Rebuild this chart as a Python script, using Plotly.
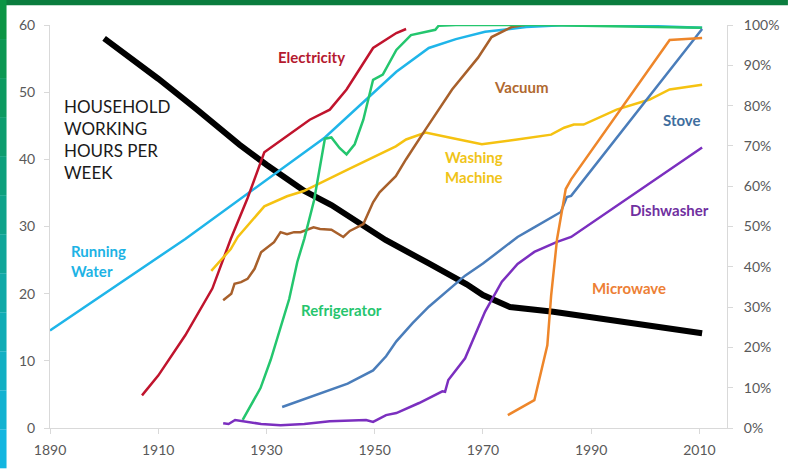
import plotly.graph_objects as go

# === Household working hours per week (left axis) ===
hours_years = [1900, 1905, 1910, 1917, 1925, 1930, 1937, 1942, 1948, 1952, 1960, 1967, 1970, 1975, 1983, 1995, 2010.5]
hours_vals = [58, 55, 52, 47.5, 42.2, 39.2, 35.3, 33.2, 30.1, 28.0, 24.5, 21.4, 19.8, 18.0, 17.3, 16.0, 14.1]

# === Share of households with the technology, % (right axis) ===
water_years = [1890, 1915, 1940.8, 1950, 1954, 1960, 1965, 1970.4, 1978, 1985.5, 2000, 2010.5]
water_vals = [24.2, 46.9, 72.1, 83.5, 88.4, 94.3, 96.5, 98.3, 99.5, 100, 99.8, 99.3]

elec_years = [1907, 1910, 1915, 1920, 1923.4, 1926.5, 1929.6, 1935, 1938, 1941.7, 1944.8, 1949.7, 1954, 1955.8]
elec_vals = [8.1, 13, 23, 34.6, 46.9, 57, 68.4, 73.5, 76.5, 79, 84, 94.3, 98, 99]

fridge_years = [1925.6, 1927, 1928.9, 1930.8, 1932.6, 1934.2, 1935.7, 1937, 1938.8, 1940.8, 1942, 1943.5,
                1944.8, 1946.3, 1947.9, 1949.7, 1951.5, 1952.5, 1954, 1956.7, 1961.2, 1961.8, 1965, 1980, 1990, 2010.5]
fridge_vals = [2, 5.5, 9.9, 17, 24.7, 32, 41.2, 47, 56.5, 71.8, 72.1, 69.5,
               67.9, 70.4, 76.5, 86.4, 87.7, 90, 93.8, 97.5, 98.8, 99.8, 100, 100, 99.8, 99.3]

vacuum_years = [1922, 1923.5, 1924.1, 1925.3, 1926.5, 1927.8, 1929, 1930.2, 1931.4, 1932.6, 1933.8, 1935.1, 1936.3,
                1938.7, 1939.9, 1942, 1944.2, 1945.4, 1947.9, 1949.7, 1950.9, 1953.9, 1955.8, 1959.4, 1964.3,
                1969.1, 1971.6, 1975.3, 1977.7]
vacuum_vals = [31.7, 33.3, 35.8, 36.2, 37, 39.5, 43.6, 44.9, 46.1, 48.6, 48.1, 48.6, 48.6,
               49.8, 49.4, 49.2, 47.4, 48.9, 50.6, 56, 58.5, 62.5, 66.7, 74.1, 84,
               91.9, 97, 99.5, 100]

washer_years = [1919.8, 1923.4, 1924.7, 1929.6, 1933.8, 1936.9, 1945, 1953.9, 1955.8, 1959.4, 1964, 1969.8,
                1976, 1982.6, 1985, 1986.8, 1988.6, 1994.7, 2000.8, 2004.5, 2010.5]
washer_vals = [39, 44.4, 47.4, 55, 57.5, 58.8, 64.1, 69.9, 71.6, 73.3, 72, 70.4,
               71.5, 72.8, 74.5, 75.3, 75.3, 79, 81.5, 84, 85.2]

stove_years = [1932.9, 1940, 1945, 1949.7, 1952.1, 1954, 1957, 1960, 1966.7, 1970, 1976.4, 1979, 1984.4,
               1985.5, 1986.3, 2010.5]
stove_vals = [5.2, 8.5, 11, 14.3, 17.8, 21.5, 26, 30.1, 37.8, 40.8, 47.4, 49.4, 53.6, 57.3, 57.6, 99]

dish_years = [1922, 1923, 1924.2, 1926.5, 1929, 1932.6, 1937, 1941.7, 1948.4, 1949.7, 1952.1, 1954, 1958.2,
              1962.5, 1963, 1963.6, 1966.7, 1970.4, 1973.5, 1976.4, 1979.5, 1983.7, 1986.3, 2010.5]
dish_vals = [1.2, 1.0, 2.0, 1.6, 1.0, 0.7, 1.0, 1.7, 2.0, 1.5, 3.2, 3.7, 6.2,
             9.1, 9.0, 11.9, 17.3, 28.9, 36.3, 40.7, 43.7, 46.2, 47.4, 69.6]

micro_years = [1974.6, 1979.5, 1981.9, 1982.6, 1983.7, 1985.3, 1986.3, 2004.5, 2010.5]
micro_vals = [3.2, 6.9, 20.5, 32.8, 46.9, 59.3, 61.7, 96.3, 96.8]

x_ticks = [1890, 1910, 1930, 1950, 1970, 1990, 2010]

series = [
    (water_years, water_vals, "#1fb5e9"),
    (elec_years, elec_vals, "#c0142d"),
    (washer_years, washer_vals, "#f5c211"),
    (vacuum_years, vacuum_vals, "#a8602b"),
    (fridge_years, fridge_vals, "#24c66e"),
    (stove_years, stove_vals, "#4a7dba"),
    (dish_years, dish_vals, "#7b2fbf"),
    (micro_years, micro_vals, "#ee862a"),
]

fig = go.Figure()
for xs, ys, col in series:
    fig.add_trace(go.Scatter(x=xs, y=ys, mode="lines", yaxis="y2",
                             line=dict(color=col, width=2.5), showlegend=False))

fig.add_trace(go.Scatter(x=hours_years, y=hours_vals, mode="lines", yaxis="y",
                         line=dict(color="black", width=6), showlegend=False))

# === Labels (positions in hours-axis units) ===
labels = [
    ("Electricity", 1938.4, 55.3, "#b5192f", "center"),
    ("Vacuum", 1977.1, 50.8, "#b0692f", "center"),
    ("Stove", 2006.7, 45.8, "#3f6e9e", "center"),
    ("Washing<br>Machine", 1968.4, 38.9, "#f0c419", "center"),
    ("Dishwasher", 2004.5, 32.4, "#7030a0", "center"),
    ("Running<br>Water", 1893.6, 24.8, "#1db3e5", "left"),
    ("Refrigerator", 1943.9, 17.5, "#26c56e", "center"),
    ("Microwave", 1996.9, 20.9, "#ed8035", "center"),
]
for txt, lx, ly, col, anchor in labels:
    fig.add_annotation(x=lx, y=ly, xref="x", yref="y", text=f"<b>{txt}</b>", showarrow=False,
                       xanchor=anchor, yanchor="middle", align=anchor,
                       font=dict(family="Lato", size=15, color=col))

fig.add_annotation(x=1892.2, y=42.9, xref="x", yref="y",
                   text="HOUSEHOLD<br>WORKING<br>HOURS PER<br>WEEK", showarrow=False,
                   xanchor="left", yanchor="middle", align="left",
                   font=dict(family="Lato", size=17, color="#1a1a1a"))

# === Frame: green band on top, green-to-cyan band on the left ===
shapes = [dict(type="rect", xref="paper", yref="paper", x0=-0.08, x1=1.09, y0=1.049, y1=1.07,
               fillcolor="#0b7d3e", line=dict(width=0), layer="above")]
top_c = (11, 148, 68)
bot_c = (19, 182, 224)
n = 12
for i in range(n):
    t = i / (n - 1)
    c = tuple(int(top_c[k] + (bot_c[k] - top_c[k]) * t) for k in range(3))
    y1 = 1.062 - i * (1.062 + 0.1) / n
    y0 = 1.062 - (i + 1) * (1.062 + 0.1) / n
    shapes.append(dict(type="rect", xref="paper", yref="paper", x0=-0.08, x1=-0.0642, y0=y0, y1=y1,
                       fillcolor="rgb(%d,%d,%d)" % c, line=dict(width=0), layer="above"))

axis_common = dict(showline=True, linecolor="#d9d9d9", linewidth=1, ticks="outside",
                   ticklen=5, tickcolor="#d9d9d9", showgrid=False, zeroline=False,
                   tickfont=dict(family="Lato", size=14, color="#595959"))

fig.update_layout(
    width=791, height=470,
    margin=dict(l=50, r=56, t=25, b=40),
    paper_bgcolor="white", plot_bgcolor="white",
    shapes=shapes,
    hovermode=False,
    xaxis=dict(range=[1890, 2015.1], tickvals=x_ticks, ticklabelstandoff=4, **axis_common),
    yaxis=dict(range=[0, 60], dtick=10, ticklabelstandoff=6, **axis_common),
    yaxis2=dict(range=[0, 100], dtick=10, ticksuffix="%", overlaying="y", side="right",
                ticklabelstandoff=8, **axis_common),
)

# page body has a default 8px margin; drop it so the figure sits at the window corner
fig.write_html("out.html", config={"displayModeBar": False},
               post_script="document.body.style.margin='0';")
